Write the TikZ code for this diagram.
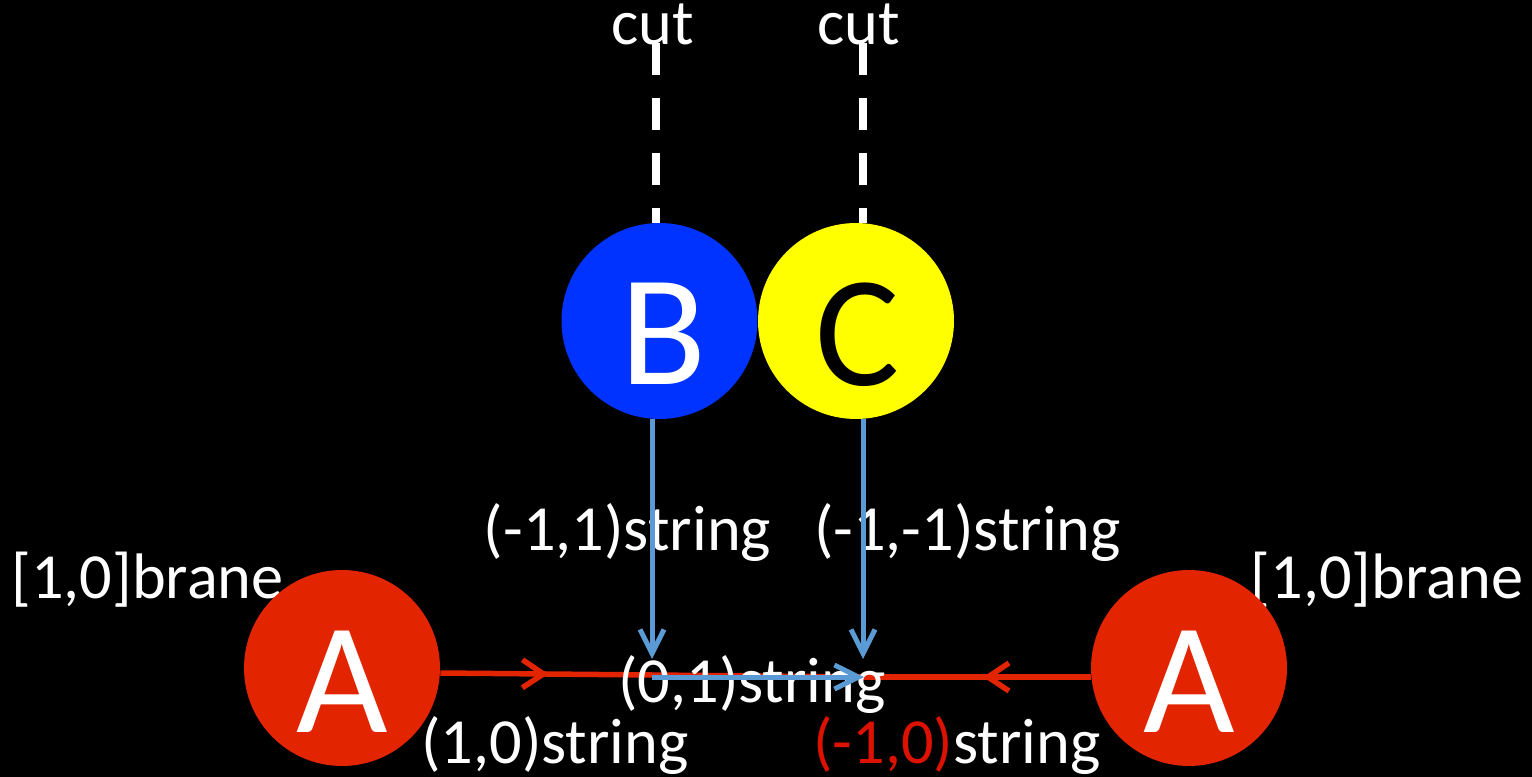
\documentclass[tikz,border=0pt]{standalone}
\usepackage{fontspec}
\setmainfont{Carlito}
\usetikzlibrary{arrows.meta,decorations.markings,calc}
\definecolor{bblue}{RGB}{0,51,255}
\definecolor{cyellow}{RGB}{255,255,0}
\definecolor{ared}{RGB}{227,36,0}
\definecolor{lred}{RGB}{221,17,0}
\definecolor{sblue}{RGB}{91,155,213}
\begin{document}
\begin{tikzpicture}[x=0.02cm,y=-0.02cm,
  ball/.style={circle,inner sep=0pt,minimum size=3.92cm},
  letter/.style={inner sep=0pt,font=\fontsize{90}{90}\selectfont},
  lbl/.style={inner sep=0pt,anchor=base,text=white,font=\fontsize{36.6}{42}\selectfont},
  cutline/.style={white,line width=0.16cm,dash pattern=on 0.64cm off 0.46cm},
  bluearr/.style={sblue,line width=0.1cm,-{Straight Barb[length=0.48cm,width=0.48cm]}},
  redline/.style={ared,line width=0.11cm},
  redmid/.style={postaction={decorate},decoration={markings,mark=at position #1 with {\arrow{Straight Barb[length=0.42cm,width=0.56cm]}}}}
]
\fill[black] (0,0) rectangle (1532,777);
\useasboundingbox (0,0) rectangle (1532,777);

% nodes (circles)
\path (659.5,321) node[ball] (B) {};
\path (856,321) node[ball] (C) {};
\path (342,668) node[ball] (AL) {};
\path (1189,668) node[ball] (AR) {};

% coordinates
\coordinate (cbtop) at (656,43);
\coordinate (cctop) at (863,43);
\coordinate (tb) at (652,659);
\coordinate (tc) at (863,659);
\coordinate (jb) at (652,677);
\coordinate (jc) at (864,677);

% cut lines
\draw[cutline] (cbtop) -- (cbtop |- B.north);
\draw[cutline] (cctop) -- (cctop |- C.north);

% red strings
\draw[redline,redmid=0.255] ($(AL.east)+(0,5)$) -- (jc);
\draw[redline,redmid=0.475] ($(AR.west)+(0,9)$) -- (jc);

% labels
\node[lbl] (cut1) at (653,45) {cut};
\node[lbl] (cut2) at (859,45) {cut};
\node[lbl] (sB) at (627.5,550) {(-1,1)string};
\node[lbl] (sC) at (967.5,550) {(-1,-1)string};
\node[lbl] (brL) at (147.5,598) {[1,0]brane};
\node[lbl] (brR) at (1387,598) {[1,0]brane};
\node[lbl] (s01) at (752,702) {(0,1)string};
\node[lbl] (s10) at (555,763) {(1,0)string};
\node[lbl] (sm10) at (957,763) {\textcolor{lred}{(-1,0)}string};

% blue strings
\draw[bluearr] (tb |- B.south) -- (tb);
\draw[bluearr] (tc |- C.south) -- (tc);
\draw[bluearr] (jb) -- (jc);

% circles drawn on top
\fill[bblue] (B.center) circle[radius=1.96cm];
\fill[cyellow] (C.center) circle[radius=1.96cm];
\fill[ared] (AL.center) circle[radius=1.96cm];
\fill[ared] (AR.center) circle[radius=1.96cm];

% letters
\node[letter,text=white] (Bt) at (663,334) {B};
\node[letter,text=black] (Ct) at (858,335) {C};
\node[letter,text=white] (ALt) at (342,682) {A};
\node[letter,text=white] (ARt) at (1189,682) {A};
\end{tikzpicture}
\end{document}
